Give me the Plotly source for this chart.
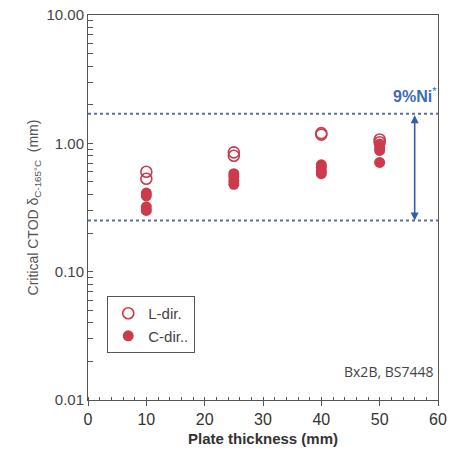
import plotly.graph_objects as go
import math

# Data
l_thickness = [10, 10, 25, 25, 40, 40, 50, 50]
l_ctod = [0.60, 0.53, 0.85, 0.80, 1.20, 1.17, 1.07, 1.02]
c_thickness = [10, 10, 10, 10, 25, 25, 25, 25, 40, 40, 40, 40, 50, 50, 50, 50]
c_ctod = [0.41, 0.39, 0.32, 0.30, 0.58, 0.55, 0.51, 0.48, 0.68, 0.65, 0.61, 0.58, 0.99, 0.93, 0.88, 0.71]
ni9_upper = 1.7
ni9_lower = 0.25
x_ticks = [0, 10, 20, 30, 40, 50, 60]
y_major = [0.01, 0.1, 1, 10]
y_major_text = ["0.01", "0.10", "1.00", "10.00"]
y_minor = [m * d for d in (0.01, 0.1, 1) for m in range(2, 10)]

red = "#cc3a4c"
blue = "#3a6bc0"
dot_col = "#5b6f9c"
font = "Liberation Sans, Arial, sans-serif"

fig = go.Figure()
fig.add_trace(go.Scatter(x=l_thickness, y=l_ctod, mode="markers", name="L-dir.",
                         marker=dict(symbol="circle-open", size=11, color=red, line=dict(width=1.6, color=red))))
fig.add_trace(go.Scatter(x=c_thickness, y=c_ctod, mode="markers", name="C-dir..",
                         marker=dict(symbol="circle", size=11, color=red, line=dict(width=0))))

for v in (ni9_upper, ni9_lower):
    fig.add_shape(type="line", xref="paper", yref="y", x0=0, x1=1, y0=v, y1=v,
                  line=dict(color=dot_col, width=2, dash="dot"))

fig.add_annotation(x=56, y=math.log10(ni9_lower), ax=56, ay=math.log10(ni9_upper),
                   xref="x", yref="y", axref="x", ayref="y", text="", showarrow=True,
                   arrowhead=2, startarrowhead=2, arrowside="end+start", arrowwidth=1.6,
                   arrowsize=1, arrowcolor="#2f5fb3")
fig.add_annotation(x=56, y=math.log10(1.7) + 0.15, xref="x", yref="y",
                   text="<b>9%Ni</b><sup>*</sup>", showarrow=False,
                   font=dict(family=font, size=16, color=blue))
fig.add_annotation(x=0.99, y=0.075, xref="paper", yref="paper", xanchor="right", yanchor="middle",
                   text="Bx2B, BS7448", showarrow=False,
                   font=dict(family="Open Sans, sans-serif", size=14, color="#444"))

fig.update_layout(
    width=450, height=460,
    margin=dict(l=88, r=12, t=15, b=60),
    paper_bgcolor="white", plot_bgcolor="white",
    font=dict(family=font, color="#444"),
    showlegend=True,
    legend=dict(x=0.055, y=0.27, xanchor="left", yanchor="top",
                bordercolor="#555", borderwidth=1, bgcolor="white",
                font=dict(size=15, color="#444"), tracegroupgap=4),
    xaxis=dict(range=[0, 60], tickvals=x_ticks, showgrid=False, zeroline=False, automargin=False,
               showline=True, linecolor="#555", linewidth=1, mirror=True,
               ticks="outside", ticklen=5, tickcolor="#555",
               minor=dict(ticks="inside", dtick=2, ticklen=3, tickcolor="#555", showgrid=False),
               tickfont=dict(size=16, color="#333"),
               title=dict(text="<b>Plate thickness (mm)</b>", font=dict(size=15, color="#333"), standoff=6)),
    yaxis=dict(type="log", range=[-2, 1],
               tickvals=y_major + y_minor, ticktext=y_major_text + [""] * len(y_minor),
               showgrid=False, zeroline=False, automargin=False,
               showline=True, linecolor="#555", linewidth=1, mirror=True,
               ticks="inside", ticklen=5, tickcolor="#555",
               tickfont=dict(size=15, color="#444"),
               title=dict(text="Critical CTOD δ<sub>C-165°C</sub>  (mm)", font=dict(size=14, color="#555"), standoff=4)),
)

fig.write_html("out.html")
